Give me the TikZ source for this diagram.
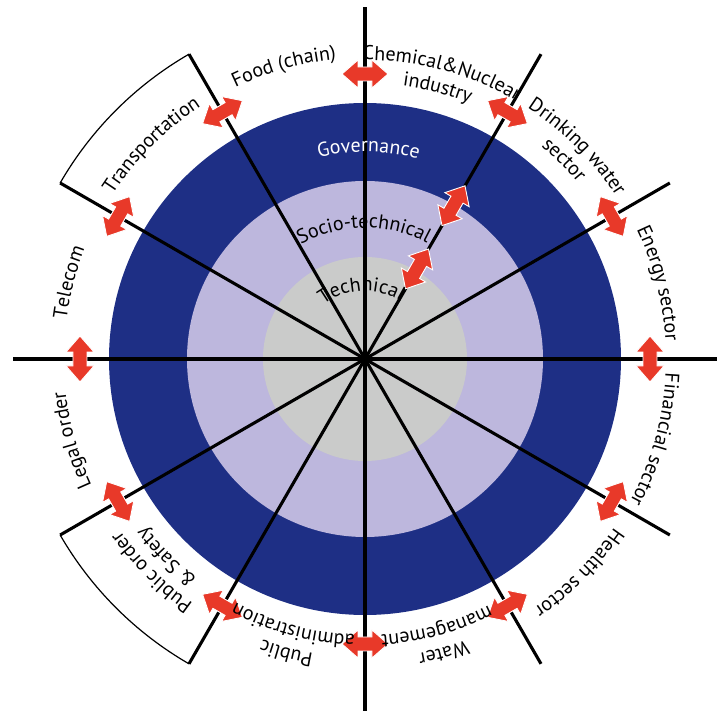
\documentclass[tikz,border=0pt]{standalone}
\usepackage{fontspec}
\setmainfont{PT Sans}
\usetikzlibrary{decorations.text}
\definecolor{govblue}{HTML}{1E2F85}
\definecolor{sociolav}{HTML}{BDB7DD}
\definecolor{techgray}{HTML}{CACBCA}
\definecolor{arrowred}{HTML}{E83929}
\tikzset{
  ray/.style={line width=3.1pt, black},
  boxarc/.style={line width=1.2pt, black},
  dblarrow/.pic={\fill[arrowred, draw=white, line width=0.9pt]
    (-23pt,0pt) -- (-7pt,14pt) -- (-7pt,7pt) -- (7pt,7pt) -- (7pt,14pt) -- (23pt,0pt)
    -- (7pt,-14pt) -- (7pt,-7pt) -- (-7pt,-7pt) -- (-7pt,-14pt) -- cycle;},
}
\newcommand\ringlabel[3]{%
  \path[decorate, decoration={text along path, text align=center, text={#3}}]
    ({#1+60}:#2) arc[start angle={#1+60}, end angle={#1-60}, radius=#2];}
\begin{document}
\begin{tikzpicture}
\fontsize{20pt}{24pt}\selectfont
\useasboundingbox (-365pt,-352pt) rectangle (358pt,359pt);
% rings
\fill[govblue] (0,0) circle[radius=256pt];
\fill[sociolav] (0,0) circle[radius=178pt];
\fill[techgray] (0,0) circle[radius=102pt];
% rays
\foreach \a in {0,30,...,330} {\draw[ray] (0,0) -- (\a:352pt);}
% framed sectors
\draw[boxarc] (120:352pt) arc[start angle=120, end angle=150, radius=352pt];
\draw[boxarc] (210:352pt) arc[start angle=210, end angle=240, radius=352pt];
% arrows
\foreach \a in {0,30,...,330} {\pic[rotate=\a+90] at (\a:285pt) {dblarrow};}
\pic[rotate=60] at (60:177pt) {dblarrow};
\pic[rotate=60] at (60:104pt) {dblarrow};
% ring labels
\ringlabel{89}{207pt}{|\color{white}|Governance}
\ringlabel{90.5}{131pt}{Socio-technical}
\ringlabel{93}{68pt}{Technical}
% sector labels
\ringlabel{105.5}{301pt}{Food (chain)}
\ringlabel{75}{299pt}{Chemical{\&}Nuclear}
\ringlabel{75}{276pt}{industry}
\ringlabel{45}{299pt}{Drinking water}
\ringlabel{45}{276pt}{sector}
\ringlabel{14.5}{301pt}{Energy sector}
\ringlabel{-15.5}{301pt}{Financial sector}
\ringlabel{-45}{301pt}{Health sector}
\ringlabel{-75}{299pt}{Water}
\ringlabel{-75}{276pt}{management}
\ringlabel{-105}{299pt}{Public}
\ringlabel{-105}{276pt}{administration}
\ringlabel{-135}{299pt}{Public order}
\ringlabel{-135}{276pt}{{\&} Safety}
\ringlabel{-164.5}{301pt}{Legal order}
\ringlabel{165.5}{301pt}{Telecom}
\ringlabel{135}{301pt}{Transportation}
\end{tikzpicture}
\end{document}
